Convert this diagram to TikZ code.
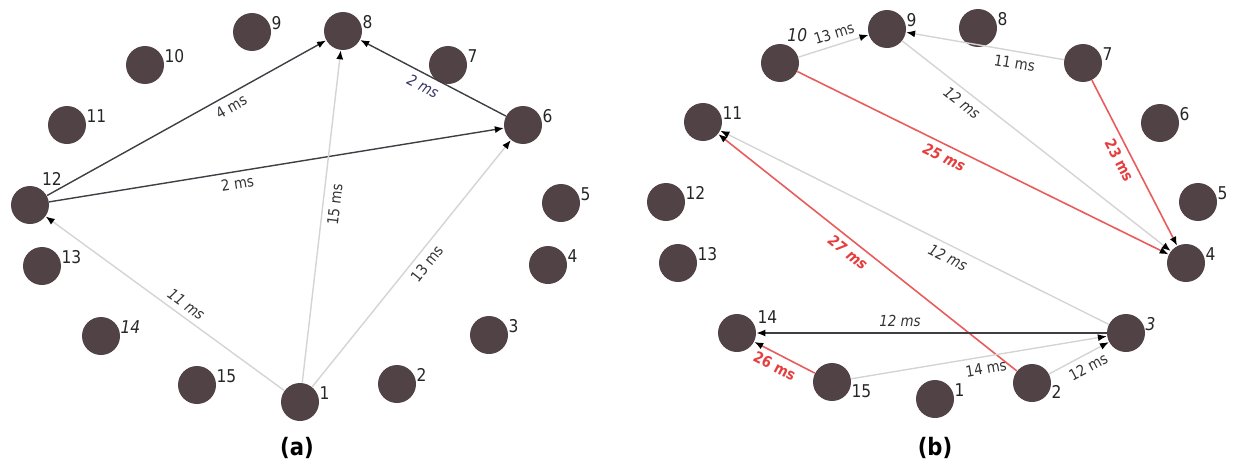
\documentclass[tikz,border=0pt]{standalone}
\usepackage{fontspec}
\setmainfont{DejaVu Sans}[FakeStretch=0.88]
\usetikzlibrary{arrows.meta}
\definecolor{nodecol}{RGB}{80,66,69}
\definecolor{lightedge}{RGB}{212,212,212}
\definecolor{darkedge}{RGB}{62,62,68}
\definecolor{rededge}{RGB}{234,92,92}
\definecolor{redtext}{RGB}{230,62,62}
\definecolor{navytext}{RGB}{52,52,104}

\begin{document}
\begin{tikzpicture}[x=0.5pt, y=-0.5pt,
	dot/.style={circle, fill=nodecol, minimum size=19pt, inner sep=0pt},
	lbl/.style={anchor=west, inner sep=1pt, font=\fontsize{8.8}{10}\selectfont, text=black!85},
	ms/.style={sloped, inner sep=2.8pt, font=\fontsize{7.6}{9}\selectfont, text=black!80},
	redms/.style={ms, text=redtext, font=\fontsize{7.6}{9}\selectfont\bfseries},
	tip/.style={-{Latex[color=black, length=4.5pt, width=3.5pt]}},
	pit/.style={{Latex[color=black, length=4.5pt, width=3.5pt]}-},
	dark/.style={draw=darkedge, line width=0.7pt},
	light/.style={draw=lightedge, line width=0.7pt},
	hot/.style={draw=rededge, line width=0.8pt},
	subcap/.style={font=\fontsize{12}{14}\selectfont\bfseries}
]
	\useasboundingbox (0,0) rectangle (1241,466);

	% (a)
	\node[dot, label={[lbl]28:1}] (a1) at (300,402) {};
	\node[dot, label={[lbl]28:2}] (a2) at (397,384) {};
	\node[dot, label={[lbl]28:3}] (a3) at (489,335) {};
	\node[dot, label={[lbl]28:4}] (a4) at (548,265) {};
	\node[dot, label={[lbl]28:5}] (a5) at (561,203) {};
	\node[dot, label={[lbl]28:6}] (a6) at (523,125) {};
	\node[dot, label={[lbl]28:7}] (a7) at (448,65) {};
	\node[dot, label={[lbl]28:8}] (a8) at (343,31) {};
	\node[dot, label={[lbl]28:9}] (a9) at (252,32) {};
	\node[dot, label={[lbl]28:10}] (a10) at (145,65) {};
	\node[dot, label={[lbl]28:11}] (a11) at (67,125) {};
	\node[dot, label={[lbl, anchor=south west]60:12}] (a12) at (30,205) {};
	\node[dot, label={[lbl]28:13}] (a13) at (42,266) {};
	\node[dot, label={[lbl]28:\textit{14}}] (a14) at (101,336) {};
	\node[dot, label={[lbl]28:15}] (a15) at (197,385) {};

	\draw[dark, tip] (a12) -- (a8) node[ms, pos=.64, below] {4 ms};
	\draw[dark, tip] (a12) -- (a6) node[ms, pos=.41, below] {2 ms};
	\draw[dark, pit] (a8) -- (a6) node[ms, pos=.47, below, text=navytext] {\itshape 2 ms};
	\draw[light, pit] (a12) -- (a1) node[ms, pos=.56, above] {\itshape 11 ms};
	\draw[light, tip] (a1) -- (a8) node[ms, pos=.54, below] {15 ms};
	\draw[light, tip] (a1) -- (a6) node[ms, pos=.53, below] {13 ms};

	\node[subcap] (capa) at (297,448) {(a)};

	% (b)
	\node[dot, label={[lbl]28:1}] (b1) at (935,399) {};
	\node[dot, label={[lbl]-28:2}] (b2) at (1032,383) {};
	\node[dot, label={[lbl]28:\textit{3}}] (b3) at (1126,333) {};
	\node[dot, label={[lbl]28:4}] (b4) at (1186,263) {};
	\node[dot, label={[lbl]28:5}] (b5) at (1198,202) {};
	\node[dot, label={[lbl]28:6}] (b6) at (1160,123) {};
	\node[dot, label={[lbl]28:7}] (b7) at (1083,63) {};
	\node[dot, label={[lbl]28:8}] (b8) at (978,28) {};
	\node[dot, label={[lbl]28:9}] (b9) at (887,29) {};
	\node[dot, label={[lbl, anchor=south west]75:\textit{10}}] (b10) at (780,63) {};
	\node[dot, label={[lbl]28:11}] (b11) at (703,122) {};
	\node[dot, label={[lbl]28:12}] (b12) at (666,202) {};
	\node[dot, label={[lbl]28:13}] (b13) at (678,263) {};
	\node[dot, label={[lbl, anchor=south west]20:14}] (b14) at (737,333) {};
	\node[dot, label={[lbl]-28:15}] (b15) at (832,382) {};

	\draw[light, tip] (b10) -- (b9) node[ms, pos=.56, above] {13 ms};
	\draw[light, pit] (b9) -- (b7) node[ms, pos=.7, below] {11 ms};
	\draw[light, tip] (b9) -- (b4) node[ms, pos=.25, below] {\itshape 12 ms};
	\draw[hot, tip] (b10) -- (b4) node[redms, pos=.41, below] {\itshape 25 ms};
	\draw[hot, tip] (b7) -- (b4) node[redms, pos=.45, below] {23 ms};
	\draw[light, pit] (b11) -- (b3) node[ms, pos=.6, below] {\itshape 12 ms};
	\draw[hot, pit] (b11) -- (b2) node[redms, pos=.46, below] {\itshape 27 ms};
	\draw[dark, pit] (b14) -- (b3) node[ms, pos=.41, above] {\itshape 12 ms};
	\draw[hot, pit] (b14) -- (b15) node[redms, pos=.43, below] {26 ms};
	\draw[light, tip] (b15) -- (b3) node[ms, pos=.52, below] {14 ms};
	\draw[light, tip] (b2) -- (b3) node[ms, pos=.56, below] {12 ms};

	\node[subcap] (capb) at (935,448) {(b)};
\end{tikzpicture}
\end{document}
